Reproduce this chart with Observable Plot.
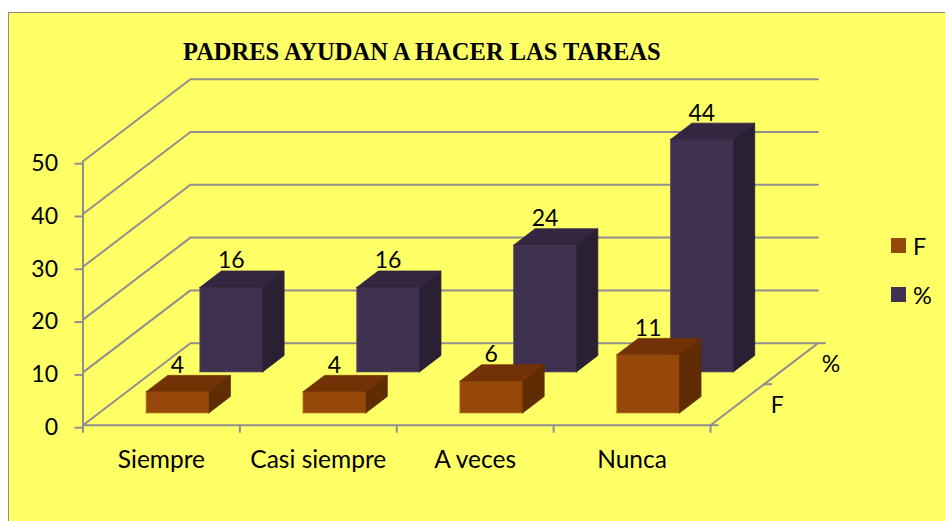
<!DOCTYPE html>
<html>
<head>
<meta charset="utf-8">
<script src="https://cdn.jsdelivr.net/npm/d3@7"></script>
<script src="https://cdn.jsdelivr.net/npm/@observablehq/plot@0.6"></script>
<style>
html,body{margin:0;padding:0;background:#fff;overflow:hidden}
#frame{position:absolute;left:8px;top:12px;width:960px;height:530px;background:#FFFF66;border-left:1.5px solid #8a8a8a;border-top:1.5px solid #8a8a8a;box-sizing:border-box}
#chart{position:absolute;left:0;top:0}
#title{position:absolute;left:183px;top:38px;font:bold 24.5px "Liberation Serif",serif;color:#000;white-space:nowrap}
.lg{position:absolute;left:891px;width:15px;height:15px}
.lt{position:absolute;left:913px;font:23.5px Lato,sans-serif;color:#000;line-height:24px}
</style>
</head>
<body>
<div id="frame"></div>
<div id="chart"></div>
<div id="title">PADRES AYUDAN A HACER LAS TAREAS</div>
<div class="lg" style="top:238px;background:#95480A"></div><div class="lt" style="top:234px">F</div>
<div class="lg" style="top:287px;background:#403151"></div><div class="lt" style="top:283px">%</div>
<script>
const categories = ["Siempre", "Casi siempre", "A veces", "Nunca"];
const seriesNames = ["F", "%"];
const valuesF = [4, 4, 6, 11];
const valuesPct = [16, 16, 24, 44];
const yTicks = [0, 10, 20, 30, 40, 50];
const FONT = "Lato, sans-serif";
const GRID = "#8f8f8f";
const FS = 23;
const FS_CAT = 24.5;

// oblique projection: one depth row moves right and up in data units
const rowDx = 53.7 / 156.9, rowDy = 41 / 5.28;
const gap = 0.3;
const px = (i, z) => i + z * rowDx;
const py = (v, z) => v + z * rowDy;

const series = [
  {name: seriesNames[1], row: 1, values: valuesPct, front: "#403151", top: "#322640", side: "#292033", edge: "#5d5068"},
  {name: seriesNames[0], row: 0, values: valuesF, front: "#95480A", top: "#733205", side: "#5F2C04", edge: "#b0701a"}
];

const faces = [];
function face(id, color, edge, pts) {
  for (const [x, y] of [...pts, pts[0]]) faces.push({id, color, edge, x, y});
}
for (const s of series) {
  s.values.forEach((v, i) => {
    const x0 = i + gap, x1 = i + 1 - gap, z0 = s.row + gap, z1 = s.row + 1 - gap;
    const id = s.name + i;
    face(id + "front", s.front, s.edge, [[px(x0, z0), py(0, z0)], [px(x1, z0), py(0, z0)], [px(x1, z0), py(v, z0)], [px(x0, z0), py(v, z0)]]);
    face(id + "top", s.top, s.top, [[px(x0, z0), py(v, z0)], [px(x1, z0), py(v, z0)], [px(x1, z1), py(v, z1)], [px(x0, z1), py(v, z1)]]);
    face(id + "side", s.side, s.side, [[px(x1, z0), py(0, z0)], [px(x1, z1), py(0, z1)], [px(x1, z1), py(v, z1)], [px(x1, z0), py(v, z0)]]);
  });
}

const walls = yTicks.flatMap(v => [
  {v, x: px(0, 0), y: py(v, 0)},
  {v, x: px(0, 2), y: py(v, 2)},
  {v, x: px(4, 2), y: py(v, 2)}
]);
const floorEdge = [{x: px(4, 0), y: py(0, 0)}, {x: px(4, 2), y: py(0, 2)}];
const zTickLen = 8 / 156.9;
const zTicks = [0, 1, 2].map(z => ({x1: px(4, z), x2: px(4, z) + zTickLen, y: py(0, z)}));

const barLabels = series.flatMap(s => s.values.map((v, i) => ({
  v, x: px(i + 0.5, s.row + gap), y: py(v, s.row + 1 - gap)
})));
const zLabels = seriesNames.map((name, r) => ({name, x: px(4, r + 0.5), y: py(0, r + 0.5)}));

const plot = Plot.plot({
  width: 945, height: 521,
  marginLeft: 82.5, marginRight: 235, marginTop: 160.7, marginBottom: 96.3,
  style: {background: "transparent", fontFamily: FONT, fontSize: FS + "px", color: "#000"},
  x: {domain: [0, 4], label: null},
  y: {domain: [0, 50], label: null},
  color: {type: "identity"},
  marks: [
    Plot.line(walls, {x: "x", y: "y", z: "v", stroke: GRID, strokeWidth: 2, curve: "linear", strokeLinejoin: "miter"}),
    Plot.line(floorEdge, {x: "x", y: "y", stroke: GRID, strokeWidth: 2}),
    Plot.link(zTicks, {x1: "x1", x2: "x2", y1: "y", y2: "y", stroke: GRID, strokeWidth: 2}),
    Plot.ruleX([0], {y1: 0, y2: 50, stroke: GRID, strokeWidth: 2}),
    Plot.ruleY([0], {x1: 0, x2: 4, stroke: GRID, strokeWidth: 2}),
    Plot.axisY({ticks: yTicks, tickSize: 8, tickPadding: 17, dy: 2.5, stroke: GRID, strokeWidth: 2, strokeOpacity: 1, fill: "#000", fontSize: FS, fontFamily: FONT, label: null}),
    Plot.axisX({ticks: [0, 1, 2, 3, 4], tickSize: 8, tickFormat: () => "", stroke: GRID, strokeWidth: 2, strokeOpacity: 1, label: null}),
    Plot.axisX({ticks: [0.5, 1.5, 2.5, 3.5], tickSize: 0, tickPadding: 25, tickFormat: d => categories[d - 0.5], fill: "#000", fontSize: FS_CAT, fontFamily: FONT, label: null}),
    Plot.line(faces, {x: "x", y: "y", z: "id", fill: "color", stroke: "edge", strokeWidth: 0.8, curve: "linear"}),
    Plot.text(barLabels, {x: "x", y: "y", text: "v", dy: -10, fill: "#000", fontSize: FS, fontFamily: FONT}),
    Plot.text(zLabels, {x: "x", y: "y", text: "name", dx: 40, dy: 1, fill: "#000", fontSize: FS, fontFamily: FONT})
  ]
});
document.getElementById("chart").appendChild(plot);
</script>
</body>
</html>
